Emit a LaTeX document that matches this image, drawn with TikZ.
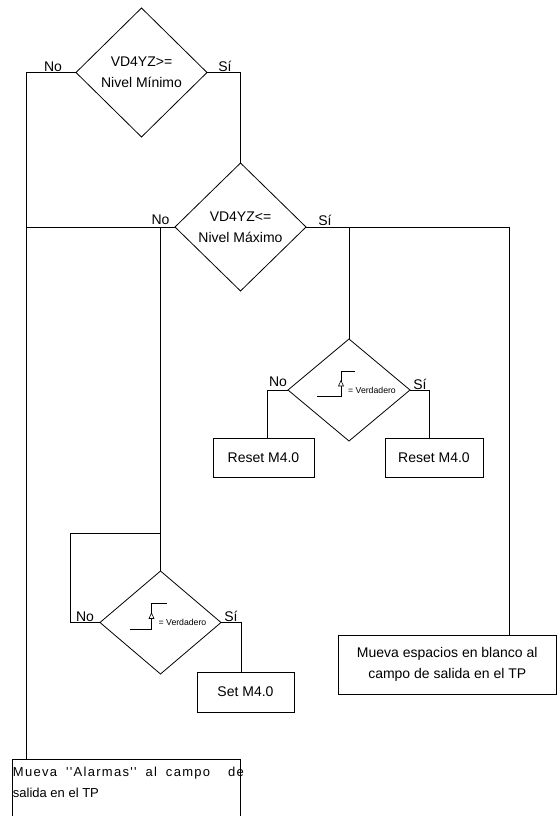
\documentclass[tikz,border=0pt]{standalone}
\usepackage{fontspec}
\setmainfont{Liberation Sans}[Ligatures=TeXOff]
\usetikzlibrary{shapes.geometric}
\begin{document}
\begin{tikzpicture}[x=1pt,y=-1pt,line width=0.8pt,
  dec/.style={diamond,draw,inner sep=0pt,outer sep=0pt,align=center,font=\fontsize{14}{21}\selectfont},
  box/.style={rectangle,draw,inner sep=0pt,outer sep=0pt,align=center,font=\fontsize{14}{21}\selectfont},
  lab/.style={anchor=base,inner sep=0pt,font=\fontsize{14}{17}\selectfont},
  small/.style={inner sep=0pt,font=\fontsize{8.7}{10}\selectfont},
  tri/.style={fill=white,line width=0.6pt}]
\useasboundingbox (0,0) rectangle (558,816);

% decisions
\node[dec,minimum width=131pt,minimum height=129pt] (d1) at (141.5,72.5) {VD4YZ>=\\Nivel Mínimo};
\node[dec,minimum width=131pt,minimum height=128pt] (d2) at (240.5,227) {VD4YZ<=\\Nivel Máximo};
\node[dec,minimum width=122pt,minimum height=102pt] (d4) at (349,390) {};
\node[dec,minimum width=121pt,minimum height=103pt] (d3) at (160.5,622.5) {};

% edge symbols
\begin{scope}[shift={(d4.center)}]
  \draw (-32,6) -- (-8,6) -- (-8,-19) -- (6,-19);
  \draw[tri] (-10.5,-4) -- (-5.5,-4) -- (-8,-9.5) -- cycle;
  \node[small] (v4) at (23,0.5) {= Verdadero};
\end{scope}
\begin{scope}[shift={(d3.center)}]
  \draw (-31,6.5) -- (-9,6.5) -- (-9,-19.5) -- (6,-19.5);
  \draw[tri] (-11.5,-4) -- (-6.5,-4) -- (-9,-9.5) -- cycle;
  \node[small] (v3) at (22,0) {= Verdadero};
\end{scope}

% boxes
\node[box,minimum width=101pt,minimum height=39pt] (rl) at (263.5,457.5) {Reset M4.0};
\node[box,minimum width=98pt,minimum height=39pt] (rr) at (434,457.5) {Reset M4.0};
\node[box,minimum width=97pt,minimum height=40pt] (set) at (245.5,692) {Set M4.0};
\node[box,minimum width=218.5pt,minimum height=59pt] (blank) at (447.25,664.5) {Mueva espacios en blanco al\\campo de salida en el TP};
\node[box,minimum width=228pt,minimum height=80pt,anchor=north west] (alarm) at (12,759) {};
\node[anchor=north west,inner sep=0pt,align=left,font=\fontsize{13}{21}\selectfont] (alarmtxt) at (12.5,766.5)
  {\makebox[231pt][s]{\addfontfeature{LetterSpace=10}Mueva ''Alarmas'' al campo\ \ de}\\salida en el TP};

% connectors
\coordinate (jl) at (26,227);
\coordinate (jm) at (160.5,227);
\coordinate (lp) at (70,533);
\draw (d1.west) -| ([xshift=14pt]alarm.north west);
\draw (d1.east) -| (d2.north);
\draw (d2.west) -- (jl);
\draw (jm) -- (d3.north);
\draw (d3.west) -| (lp) -- (lp -| d3.north);
\draw (d3.east) -| ([xshift=-4.5pt]set.north);
\draw (d2.east) -| ([xshift=61.75pt]blank.north);
\draw (d4.north) -- (d4.north |- d2.east);
\draw (d4.west) -| ([xshift=3.5pt]rl.north);
\draw (d4.east) -| ([xshift=-5pt]rr.north);

% labels
\node[lab] (n1) at (53,71) {No};
\node[lab] (s1) at (225,71) {Sí};
\node[lab] (n2) at (160.5,224) {No};
\node[lab] (s2) at (325,225) {Sí};
\node[lab] (n4) at (278,386) {No};
\node[lab] (s4) at (420,389) {Sí};
\node[lab] (n3) at (85,621) {No};
\node[lab] (s3) at (231,621) {Sí};
\end{tikzpicture}
\end{document}
